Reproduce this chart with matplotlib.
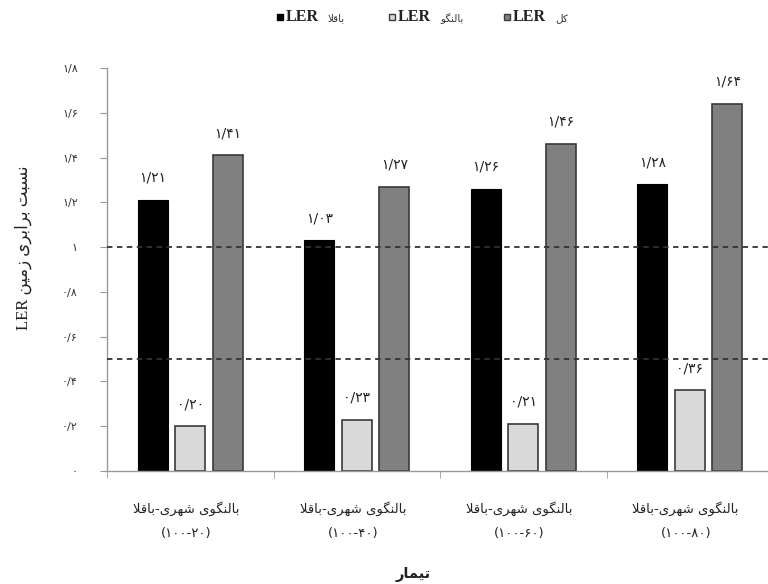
import matplotlib
matplotlib.use("Agg")
import matplotlib.pyplot as plt
from matplotlib.lines import Line2D
import matplotlib.transforms as mtransforms
import numpy as np

plt.rcParams['font.family'] = ['Liberation Serif', 'DejaVu Sans']

# ---------------- data ----------------
treat_pct = ['20', '40', '60', '80']
faba_ler = [1.21, 1.03, 1.26, 1.28]      # LER باقلا
balangu_ler = [0.20, 0.23, 0.21, 0.36]   # LER بالنگو
total_ler = [1.41, 1.27, 1.46, 1.64]     # LER کل
ref_lines = [1.0, 0.5]
y_ticks = [0, 0.2, 0.4, 0.6, 0.8, 1.0, 1.2, 1.4, 1.6, 1.8]
series_names = ['باقلا', 'بالنگو', 'کل']

# ------------- Persian text shaping (presentation forms) -------------
FORMS = {
    'ا': ('\uFE8D', '\uFE8E', None, None),
    'ب': ('\uFE8F', '\uFE90', '\uFE91', '\uFE92'),
    'ت': ('\uFE95', '\uFE96', '\uFE97', '\uFE98'),
    'ر': ('\uFEAD', '\uFEAE', None, None),
    'ز': ('\uFEAF', '\uFEB0', None, None),
    'س': ('\uFEB1', '\uFEB2', '\uFEB3', '\uFEB4'),
    'ش': ('\uFEB5', '\uFEB6', '\uFEB7', '\uFEB8'),
    'ق': ('\uFED5', '\uFED6', '\uFED7', '\uFED8'),
    'ک': ('\uFB8E', '\uFB8F', '\uFB90', '\uFB91'),
    'گ': ('\uFB92', '\uFB93', '\uFB94', '\uFB95'),
    'ل': ('\uFEDD', '\uFEDE', '\uFEDF', '\uFEE0'),
    'م': ('\uFEE1', '\uFEE2', '\uFEE3', '\uFEE4'),
    'ن': ('\uFEE5', '\uFEE6', '\uFEE7', '\uFEE8'),
    'ه': ('\uFEE9', '\uFEEA', '\uFEEB', '\uFEEC'),
    'و': ('\uFEED', '\uFEEE', None, None),
    'ی': ('\uFBFC', '\uFBFD', '\uFBFE', '\uFBFF'),
}


def _dual(c):
    return c in FORMS and FORMS[c][2] is not None


def shape(s):
    res = []
    n = len(s)
    i = 0
    while i < n:
        c = s[i]
        prev = s[i - 1] if i > 0 else ''
        link_prev = _dual(prev)
        if c == 'ل' and i + 1 < n and s[i + 1] == 'ا':
            res.append('\uFEFC' if link_prev else '\uFEFB')
            i += 2
            continue
        if c in FORMS:
            f = FORMS[c]
            nxt = s[i + 1] if i + 1 < n else ''
            link_next = _dual(c) and (nxt in FORMS)
            if link_prev and link_next:
                res.append(f[3])
            elif link_prev:
                res.append(f[1])
            elif link_next:
                res.append(f[2])
            else:
                res.append(f[0])
        else:
            res.append(c)
        i += 1
    return ''.join(res)


def vis(s):
    """visual (left-to-right) form of a right-to-left Persian string"""
    return shape(s)[::-1]


FA_DIG = str.maketrans('0123456789.', '۰۱۲۳۴۵۶۷۸۹/')


def fa(s):
    return s.translate(FA_DIG)


# ---------------- figure ----------------
fig = plt.figure(figsize=(7.68, 5.84), dpi=100)
ax = fig.add_axes([107 / 768, 1 - 471 / 584, 666 / 768, 403 / 584])

colors = ['black', '#d9d9d9', '#808080']
edges = ['black', '#3a3a3a', '#3a3a3a']

x = np.arange(len(treat_pct))
w = 0.18
off = 0.225
b1 = ax.bar(x - off, faba_ler, w, color=colors[0], edgecolor=edges[0], linewidth=0.8, zorder=2)
b2 = ax.bar(x, balangu_ler, w, color=colors[1], edgecolor=edges[1], linewidth=1.2, zorder=2)
b3 = ax.bar(x + off, total_ler, w, color=colors[2], edgecolor=edges[2], linewidth=1.2, zorder=2)

for r in ref_lines:
    ax.axhline(r, color='#333333', linestyle=(0, (3, 2.5)), linewidth=1.3, zorder=3)

for bars, vals in ((b1, faba_ler), (b2, balangu_ler), (b3, total_ler)):
    for rect, v in zip(bars, vals):
        ax.annotate(fa(f"{v:.2f}"), (rect.get_x() + rect.get_width() / 2, v),
                    xytext=(0, 16), textcoords='offset points', ha='center', va='center',
                    fontsize=10, color='#222222', family=['DejaVu Sans'])

ax.set_xlim(-0.5, len(treat_pct) - 0.5)
ax.set_ylim(0, 1.8)
ax.set_yticks(y_ticks)
ax.set_yticklabels([fa(f"{round(v, 1):g}") for v in y_ticks], fontsize=8, color='#333333',
                   family=['DejaVu Sans'])

ax.set_xticks(x)
ax.set_xticklabels([vis('بالنگوی شهری-باقلا') + '\n' + fa(f"(100-{p})") for p in treat_pct],
                   fontsize=9.5, color='#222222', family=['DejaVu Sans'], linespacing=2.1)
ax.set_xticks(np.arange(len(treat_pct) + 1) - 0.5, minor=True)
ax.tick_params(axis='x', which='major', length=0, pad=22)
ax.tick_params(axis='x', which='minor', length=5, color='#999999', direction='out')
ax.tick_params(axis='y', length=5, color='#999999', pad=16)
shift = mtransforms.ScaledTranslation(-4 / 100, 0, fig.dpi_scale_trans)
for lab in ax.get_xticklabels():
    lab.set_transform(lab.get_transform() + shift)

for s in ('top', 'right'):
    ax.spines[s].set_visible(False)
for s in ('left', 'bottom'):
    ax.spines[s].set_color('#999999')
    ax.spines[s].set_linewidth(1.0)

ax.set_ylabel('LER ' + vis('نسبت برابری زمین'), fontsize=12, color='#222222')
ax.yaxis.set_label_coords((32 - 107) / 666, (471 - 248) / 403)
fig.text(413 / 768, 1 - 574 / 584, vis('تیمار'), ha='center', va='center', fontsize=10.5,
         fontweight='bold', color='#222222', family=['DejaVu Sans'])

# legend (marker, "LER", Persian series name)
leg_x = [280, 392, 507]
leg_y = 1 - 17 / 584
for xm, name, fc, ec in zip(leg_x, series_names, colors, edges):
    fig.add_artist(Line2D([xm / 768], [leg_y], transform=fig.transFigure, linestyle='none',
                          marker='s', markersize=5, markerfacecolor=fc, markeredgecolor=ec,
                          markeredgewidth=1.0))
    t = fig.text((xm + 6) / 768, leg_y, 'LER', ha='left', va='center', fontsize=11.5,
                 fontweight='bold', color='#222222', family=['Liberation Serif'])
    fig.text((xm + 48) / 768, leg_y - 0.002, vis(name), ha='left', va='center', fontsize=7.5,
             color='#333333', family=['DejaVu Sans'])

fig.savefig('out.png', dpi=100)
